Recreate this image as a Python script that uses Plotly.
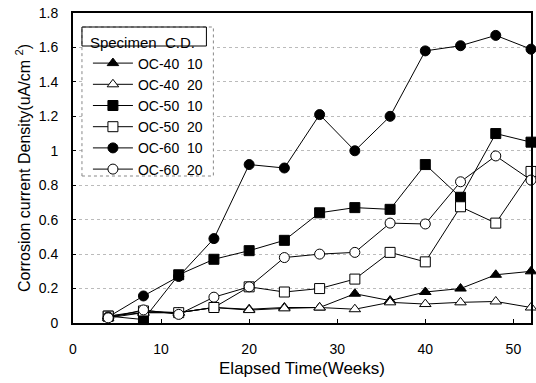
import plotly.graph_objects as go

weeks = [4, 8, 12, 16, 20, 24, 28, 32, 36, 40, 44, 48, 52]

oc40_10 = [0.04, 0.06, 0.06, 0.09, 0.08, 0.09, 0.09, 0.17, 0.13, 0.18, 0.20, 0.28, 0.30]
oc40_20 = [0.03, 0.06, 0.06, 0.09, 0.075, 0.085, 0.09, 0.08, 0.12, 0.11, 0.12, 0.125, 0.09]
oc50_10 = [0.04, 0.02, 0.28, 0.37, 0.42, 0.48, 0.64, 0.67, 0.66, 0.92, 0.73, 1.10, 1.05]
oc50_20 = [0.04, 0.07, 0.06, 0.09, 0.21, 0.18, 0.20, 0.255, 0.41, 0.355, 0.675, 0.58, 0.88]
oc60_10 = [0.035, 0.157, 0.27, 0.49, 0.92, 0.90, 1.21, 1.00, 1.20, 1.58, 1.61, 1.67, 1.59]
oc60_20 = [0.03, 0.076, 0.05, 0.15, 0.21, 0.38, 0.40, 0.41, 0.58, 0.575, 0.82, 0.97, 0.83]

series = [
    ("OC-40  10", oc40_10, "triangle-up", "black"),
    ("OC-40  20", oc40_20, "triangle-up", "white"),
    ("OC-50  10", oc50_10, "square", "black"),
    ("OC-50  20", oc50_20, "square", "white"),
    ("OC-60  10", oc60_10, "circle", "black"),
    ("OC-60  20", oc60_20, "circle", "white"),
]

fig = go.Figure()
for name, vals, sym, fill in series:
    fig.add_trace(go.Scatter(
        x=weeks, y=vals, name=name, mode="lines+markers",
        line=dict(color="black", width=1),
        marker=dict(symbol=sym, size=10, color=fill,
                    line=dict(color="black", width=1)),
        cliponaxis=False,
    ))

W, L, T, B = 460, 73, 13, 323
def px(x):
    return (x - L) / W
def py(y):
    return (B - y) / (B - T)

fig.update_layout(
    width=536, height=383,
    margin=dict(l=73, r=3, t=13, b=60),
    paper_bgcolor="white", plot_bgcolor="white",
    font=dict(family="Liberation Sans, Arial, sans-serif", size=14, color="black"),
    showlegend=True,
    legend=dict(
        x=px(88), y=py(28), xanchor="left", yanchor="top",
        bgcolor="rgba(0,0,0,0)", borderwidth=0,
        title=dict(text="Specimen  C.D.", font=dict(size=15)),
        font=dict(size=14), tracegroupgap=0, itemwidth=40,
    ),
    xaxis=dict(
        range=[0, 52], tickvals=[0, 10, 20, 30, 40, 50],
        showgrid=False, zeroline=False,
        showline=True, linecolor="black", linewidth=2, mirror=True,
        ticks="inside", ticklen=4, tickcolor="black",
        ticklabelstandoff=12,
        title=dict(text="Elapsed Time(Weeks)", font=dict(size=17), standoff=6),
        tickfont=dict(size=14),
    ),
    yaxis=dict(
        range=[0, 1.8], tickvals=[0, 0.2, 0.4, 0.6, 0.8, 1, 1.2, 1.4, 1.6, 1.8],
        ticktext=["0", "0.2", "0.4", "0.6", "0.8", "1", "1.2", "1.4", "1.6", "1.8"],
        showgrid=True, gridcolor="#bbbbbb", griddash="dot", gridwidth=1,
        zeroline=False,
        showline=True, linecolor="black", linewidth=2, mirror=True,
        ticks="inside", ticklen=3, tickcolor="black",
        ticklabelstandoff=10,
        title=dict(text="Corrosion current Density(uA/cm <sup>2</sup>)", font=dict(size=16), standoff=4),
        tickfont=dict(size=14),
    ),
)

# legend box (white, dashed grey border) and boxed title
fig.add_shape(type="rect", xref="paper", yref="paper",
              x0=px(82), x1=px(214), y0=py(176), y1=py(27),
              line=dict(color="#888", width=1, dash="dot"), fillcolor="white", layer="above")
fig.add_shape(type="rect", xref="paper", yref="paper",
              x0=px(82), x1=px(207), y0=py(46), y1=py(27),
              line=dict(color="black", width=1), fillcolor="rgba(0,0,0,0)", layer="above")

fig.write_html("out.html")
